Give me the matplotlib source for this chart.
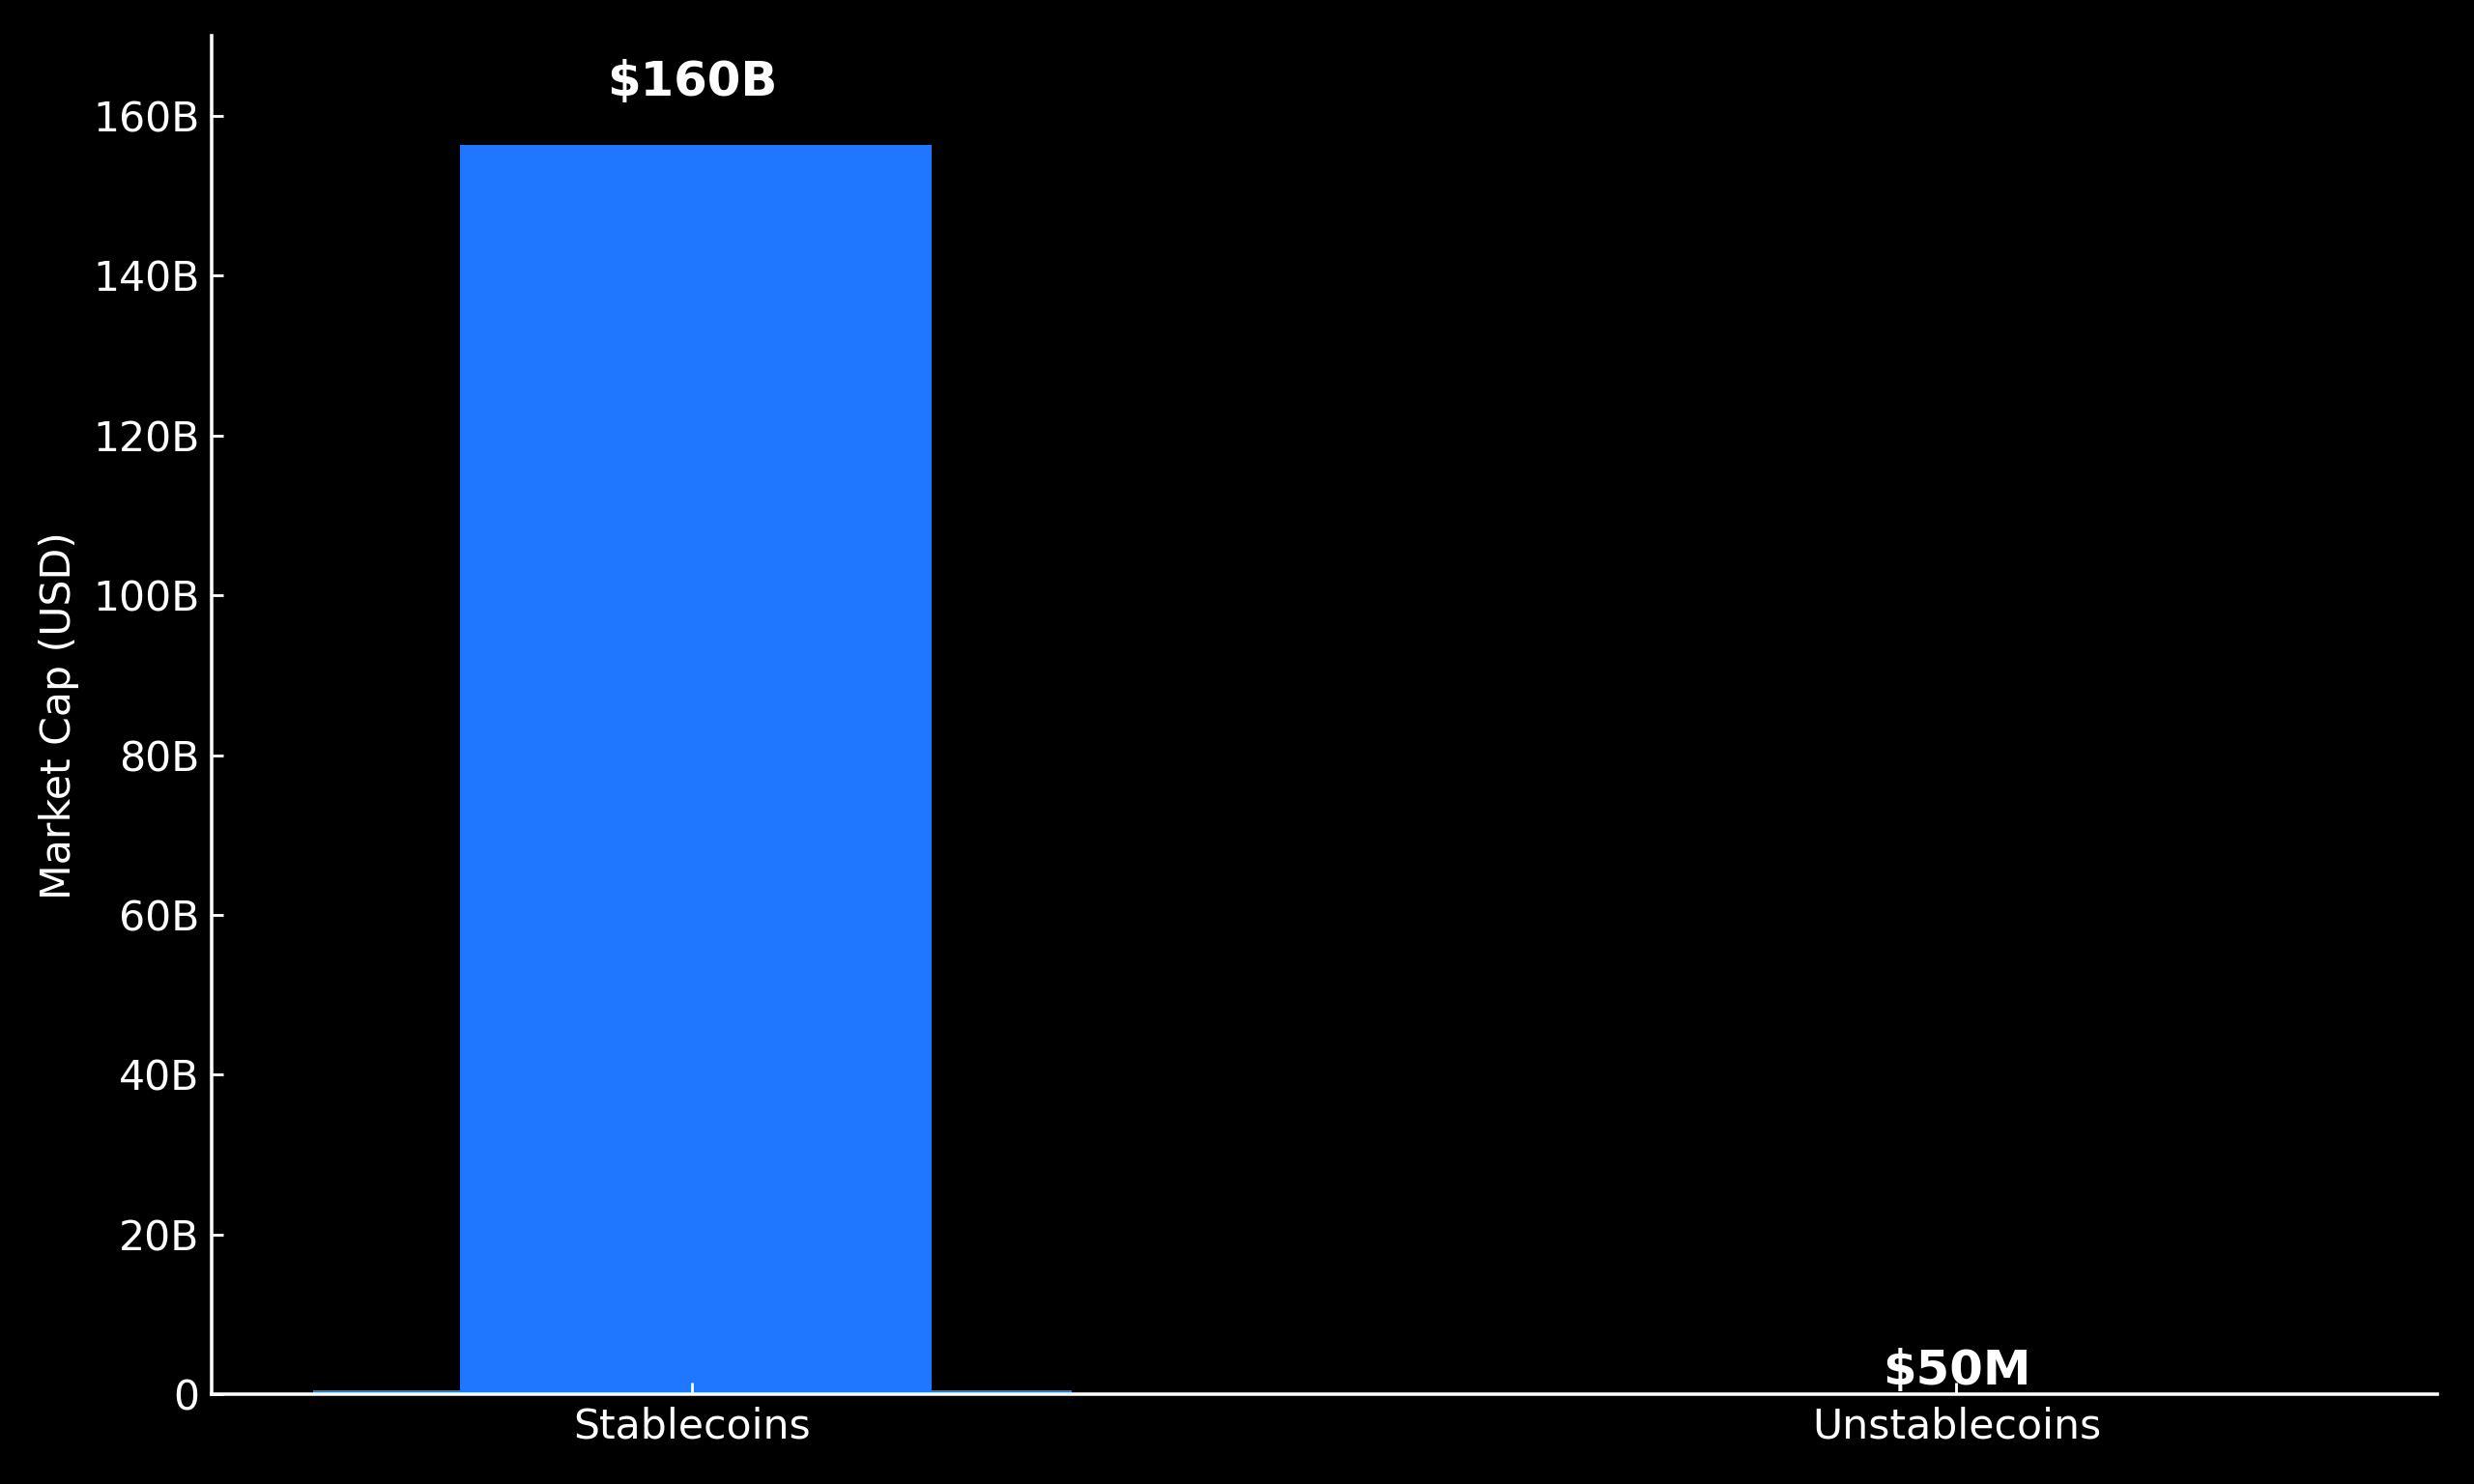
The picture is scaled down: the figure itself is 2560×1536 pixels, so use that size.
import matplotlib
matplotlib.use("Agg")
import matplotlib.pyplot as plt
from matplotlib.ticker import FuncFormatter, MultipleLocator

categories = ["Stablecoins", "Unstablecoins"]
base_values = [0.5e9, 0.05e9]          # thin full-width bars
highlight_value = 156.4e9              # main Stablecoins bar
value_labels = ["$160B", "$50M"]
label_offsets_pt = [11.5, 0]

bar_color = "#1f77ff"

plt.rcParams["font.family"] = ["DejaVu Sans"]
fig, ax = plt.subplots(figsize=(10, 6), dpi=256)
fig.patch.set_facecolor("black")
ax.set_facecolor("black")

x = list(range(len(categories)))
ax.bar(x, base_values, width=0.6, color=bar_color)
ax.bar([x[0] + 0.003], [highlight_value], width=0.373, color=bar_color)

tops = [highlight_value, base_values[1]]
for xi, top, lab, off in zip(x, tops, value_labels, label_offsets_pt):
    ax.annotate(lab, xy=(xi, top), xytext=(0, off), textcoords="offset points",
                ha="center", va="bottom", color="white", fontsize=14,
                fontweight="bold")

ax.set_xticks(x)
ax.set_xticklabels(categories)
ax.set_ylim(0, 170e9)
ax.set_xlim(-0.38, 1.38)
ax.yaxis.set_major_locator(MultipleLocator(20e9))
ax.yaxis.set_major_formatter(FuncFormatter(lambda v, p: "0" if v == 0 else f"{v/1e9:.0f}B"))
ax.set_ylabel("Market Cap (USD)", color="white", fontsize=12)

for s in ["top", "right"]:
    ax.spines[s].set_visible(False)
for s in ["left", "bottom"]:
    ax.spines[s].set_color("white")
    ax.spines[s].set_linewidth(1.0)
ax.tick_params(axis="both", direction="in", colors="white", labelsize=12)

fig.subplots_adjust(left=0.0855, right=0.985, top=0.9756, bottom=0.0606)
fig.savefig("out.png", dpi=256, facecolor="black")
